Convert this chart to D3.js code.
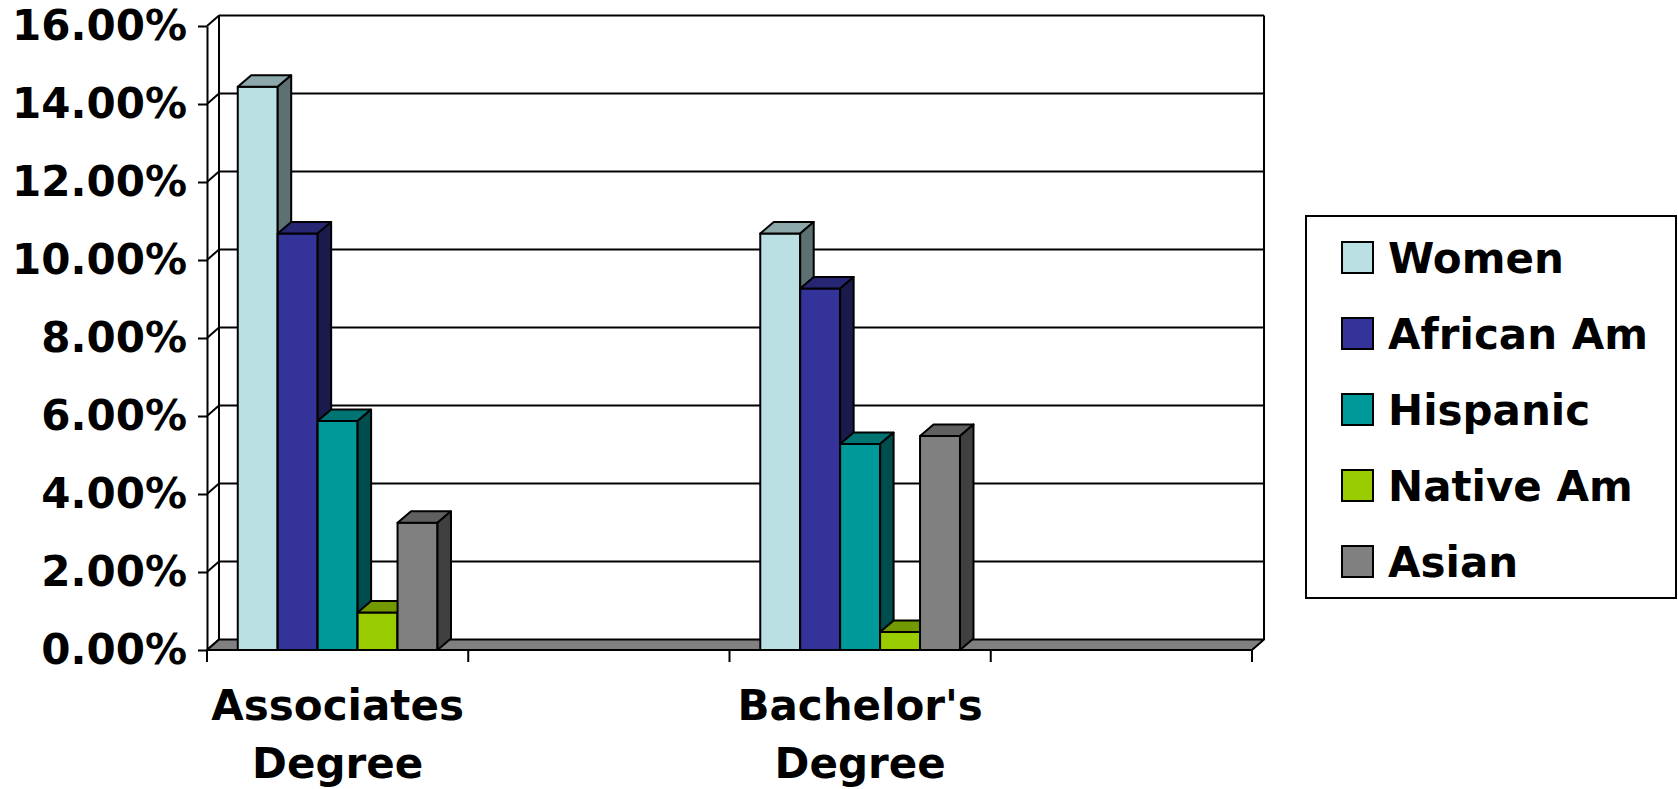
<!DOCTYPE html>
<html>
<head>
<meta charset="utf-8">
<script src="https://cdn.jsdelivr.net/npm/d3@7"></script>
<style>
  body { margin: 0; background: #fff; }
  svg { display: block; font-family: "DejaVu Sans", Verdana, sans-serif; font-weight: bold; }
</style>
</head>
<body>
<div id="chart"></div>
<script>
// chart data
const categories = ["Associates Degree", "", "Bachelor's Degree", ""];
const seriesNames = ["Women", "African Am", "Hispanic", "Native Am", "Asian"];
const seriesColors = ["#bae0e3", "#333399", "#009999", "#99cc00", "#808080"];
const women = [0.1444, null, 0.1068, null];
const africanAm = [0.1068, null, 0.0927, null];
const hispanic = [0.0587, null, 0.0528, null];
const nativeAm = [0.0096, null, 0.0046, null];
const asian = [0.0326, null, 0.0549, null];
const yTicks = [0, 0.02, 0.04, 0.06, 0.08, 0.10, 0.12, 0.14, 0.16];

const seriesValues = [women, africanAm, hispanic, nativeAm, asian];

const width = 1678, height = 789;
const plotLeft = 207, plotRight = 1252, plotTop = 26, plotBase = 650;
const wall = { x: 12, y: -10.5 };   // depth of the back wall
const bar = { x: 13.5, y: -11.5 };  // depth of each column

const svg = d3.select("#chart").append("svg")
  .attr("width", width)
  .attr("height", height)
  .style("background", "#fff");

const y = d3.scaleLinear().domain([0, 0.16]).range([plotBase, plotTop]);

const xCat = d3.scaleBand().domain(d3.range(categories.length)).range([plotLeft, plotRight]).padding(0);
const xSer = d3.scaleBand().domain(seriesNames).range([0, xCat.bandwidth()]).paddingInner(0).paddingOuter(0.77);

// back wall + gridlines
const back = svg.append("g").attr("transform", `translate(${wall.x},${wall.y})`);
back.selectAll("line.grid")
  .data(yTicks.filter(d => d > 0))
  .enter().append("line")
  .attr("x1", plotLeft).attr("x2", plotRight)
  .attr("y1", d => y(d)).attr("y2", d => y(d))
  .attr("stroke", "#000").attr("stroke-width", 2);
back.append("line")
  .attr("x1", plotLeft).attr("x2", plotLeft).attr("y1", y(0.16)).attr("y2", y(0))
  .attr("stroke", "#000").attr("stroke-width", 2);
back.append("line")
  .attr("x1", plotRight).attr("x2", plotRight).attr("y1", y(0.16)).attr("y2", y(0))
  .attr("stroke", "#000").attr("stroke-width", 2);

// side wall diagonals
svg.selectAll("line.diag")
  .data(yTicks)
  .enter().append("line")
  .attr("x1", plotLeft).attr("y1", d => y(d))
  .attr("x2", plotLeft + wall.x).attr("y2", d => y(d) + wall.y)
  .attr("stroke", "#000").attr("stroke-width", 2);

// floor
svg.append("polygon")
  .attr("points", [[plotLeft, plotBase], [plotRight, plotBase], [plotRight + wall.x, plotBase + wall.y], [plotLeft + wall.x, plotBase + wall.y]].join(" "))
  .attr("fill", "#808080")
  .attr("stroke", "#000").attr("stroke-width", 2).attr("stroke-linejoin", "round");

// y axis
const yAxis = svg.append("g")
  .attr("transform", `translate(${plotLeft},0)`)
  .call(d3.axisLeft(y).tickValues(yTicks).tickFormat(d3.format(".2%")).tickSize(9).tickSizeOuter(0).tickPadding(11));
yAxis.selectAll("path, line").attr("stroke", "#000").attr("stroke-width", 2);
yAxis.selectAll("text")
  .attr("fill", "#000")
  .style("font-family", "'DejaVu Sans', Verdana, sans-serif")
  .style("font-weight", "bold")
  .style("font-size", "42px");

// category boundary ticks
const bounds = categories.map((c, i) => xCat(i)).concat([plotRight]);
svg.selectAll("line.ctick")
  .data(bounds)
  .enter().append("line")
  .attr("x1", d => d).attr("x2", d => d)
  .attr("y1", plotBase).attr("y2", plotBase + 12)
  .attr("stroke", "#000").attr("stroke-width", 2);

// category labels
const labels = svg.append("g").selectAll("text")
  .data(categories)
  .enter().append("text")
  .attr("text-anchor", "middle")
  .attr("font-size", 42)
  .attr("fill", "#000");
labels.each(function (d, i) {
  const words = d.split(" ").filter(w => w);
  d3.select(this).selectAll("tspan")
    .data(words)
    .enter().append("tspan")
    .attr("x", xCat(i) + xCat.bandwidth() / 2)
    .attr("y", (w, j) => 720 + j * 58)
    .text(w => w);
});

// 3d columns
const bars = [];
categories.forEach((c, i) => {
  seriesNames.forEach((s, k) => {
    const v = seriesValues[k][i];
    if (v == null) return;
    bars.push({ i, k, v });
  });
});

const shade = (col, f) => {
  const c = d3.rgb(col);
  return d3.rgb(c.r * f, c.g * f, c.b * f).formatHex();
};

const barG = svg.append("g").selectAll("g")
  .data(bars)
  .enter().append("g")
  .attr("stroke", "#000")
  .attr("stroke-width", 2)
  .attr("stroke-linejoin", "round");

barG.each(function (d) {
  const g = d3.select(this);
  const x0 = xCat(d.i) + xSer(seriesNames[d.k]);
  const w = xSer.bandwidth();
  const yv = y(d.v);
  const col = seriesColors[d.k];
  g.append("rect")
    .attr("x", x0).attr("y", yv)
    .attr("width", w).attr("height", plotBase - yv)
    .attr("fill", col);
  g.append("polygon")
    .attr("points", [[x0, yv], [x0 + w, yv], [x0 + w + bar.x, yv + bar.y], [x0 + bar.x, yv + bar.y]].join(" "))
    .attr("fill", shade(col, 0.75));
  g.append("polygon")
    .attr("points", [[x0 + w, yv], [x0 + w + bar.x, yv + bar.y], [x0 + w + bar.x, plotBase + bar.y], [x0 + w, plotBase]].join(" "))
    .attr("fill", shade(col, 0.5));
});

// legend
const legend = svg.append("g").attr("transform", "translate(1306,216)");
legend.append("rect")
  .attr("width", 370).attr("height", 382)
  .attr("fill", "#fff").attr("stroke", "#000").attr("stroke-width", 2);
const item = legend.selectAll("g.item")
  .data(seriesNames)
  .enter().append("g")
  .attr("transform", (d, i) => `translate(36,${26 + i * 76})`);
item.append("rect")
  .attr("width", 31).attr("height", 31)
  .attr("fill", (d, i) => seriesColors[i])
  .attr("stroke", "#000").attr("stroke-width", 2);
item.append("text")
  .attr("x", 46).attr("y", 15.5).attr("dy", "0.36em")
  .attr("font-size", 42)
  .attr("fill", "#000")
  .text(d => d);
</script>
</body>
</html>
